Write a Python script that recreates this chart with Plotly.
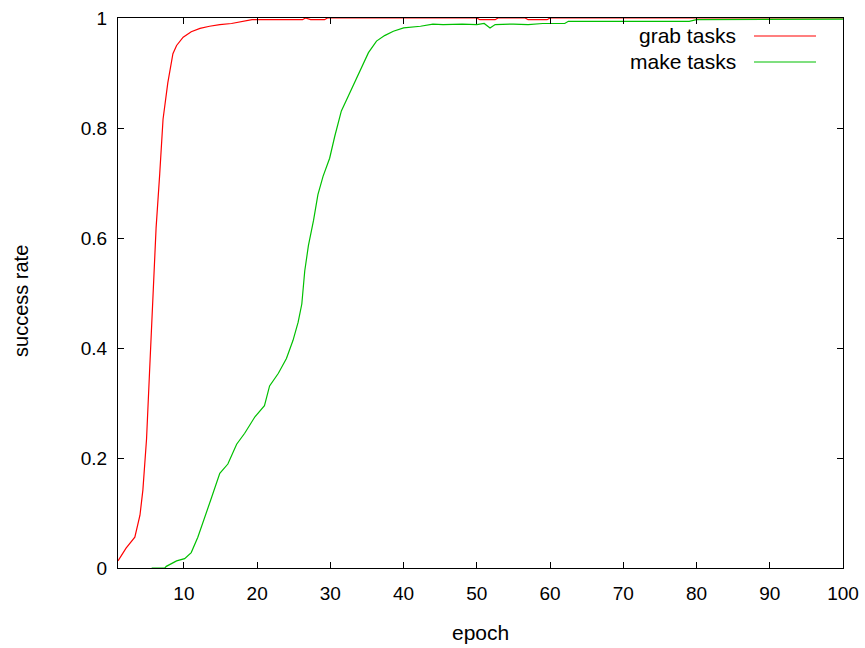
import plotly.graph_objects as go

# success rate per epoch for the two task families
grab_epoch = [1.0, 2.1, 3.3, 4.0, 4.4, 4.9, 5.3, 5.8, 6.2, 6.7, 7.15, 7.8, 8.5, 9.0,
              9.9, 11.0, 12.2, 13.5, 14.9, 16.5, 18.5, 19.3, 26.2, 26.6, 27.3, 29.2,
              29.6, 50.0, 50.4, 52.5, 52.9, 56.6, 57.0, 59.6, 60.0, 100.0]
grab_rate = [0.013, 0.036, 0.056, 0.096, 0.142, 0.235, 0.354, 0.486, 0.618, 0.717,
             0.816, 0.882, 0.935, 0.950, 0.965, 0.975, 0.981, 0.985, 0.988, 0.990,
             0.995, 0.997, 0.997, 1.0, 0.997, 0.997, 1.0, 1.0, 0.997, 0.997, 1.0,
             1.0, 0.997, 0.997, 1.0, 1.0]

make_epoch = [5.6, 7.4, 7.6, 9.0, 10.1, 11.0, 11.9, 12.8, 13.8, 14.9, 16.0, 17.2,
              18.3, 19.7, 21.0, 21.7, 22.9, 24.0, 24.9, 25.6, 26.1, 26.5, 27.0, 27.7,
              28.3, 29.0, 29.9, 30.6, 31.5, 32.2, 33.6, 35.2, 36.3, 37.4, 38.6, 40.0,
              42.3, 44.0, 45.4, 48.0, 50.0, 51.0, 51.8, 52.5, 55.0, 57.0, 59.0, 62.0,
              62.5, 70.0, 79.0, 80.0, 85.0, 88.0, 90.0, 93.0, 95.0, 97.0, 100.0]
make_rate = [0.0, 0.0, 0.003, 0.013, 0.017, 0.028, 0.056, 0.089, 0.129, 0.172, 0.189,
             0.225, 0.245, 0.275, 0.295, 0.331, 0.354, 0.381, 0.414, 0.447, 0.480,
             0.540, 0.586, 0.632, 0.679, 0.712, 0.745, 0.785, 0.831, 0.851, 0.891,
             0.937, 0.958, 0.968, 0.976, 0.982, 0.985, 0.989, 0.988, 0.989, 0.988,
             0.990, 0.982, 0.988, 0.989, 0.988, 0.990, 0.990, 0.994, 0.994, 0.994,
             0.997, 0.997, 0.998, 0.997, 0.998, 0.997, 0.998, 0.998]

x_ticks = [10, 20, 30, 40, 50, 60, 70, 80, 90, 100]
y_ticks = [0, 0.2, 0.4, 0.6, 0.8, 1]
y_tick_text = ["0", "0.2", "0.4", "0.6", "0.8", "1"]

RED = "#ff0000"
GREEN = "#00c000"
FONT = "Liberation Sans"
FS = 19
FS_LABEL = 21

fig = go.Figure()
fig.add_trace(go.Scatter(x=grab_epoch, y=grab_rate, mode="lines",
                         line=dict(color=RED, width=1.2), name="grab tasks",
                         showlegend=False))
fig.add_trace(go.Scatter(x=make_epoch, y=make_rate, mode="lines",
                         line=dict(color=GREEN, width=1.2), name="make tasks",
                         showlegend=False))

axis_common = dict(showline=True, linecolor="black", linewidth=1, mirror="allticks",
                   ticks="inside", ticklen=6, tickcolor="black", tickwidth=1,
                   showgrid=False, zeroline=False, automargin=False,
                   tickfont=dict(family=FONT, size=FS, color="black"))

fig.update_xaxes(range=[1, 100], tickvals=x_ticks, ticklabelstandoff=8, **axis_common)
fig.update_yaxes(range=[0, 1], tickvals=y_ticks, ticktext=y_tick_text,
                 ticklabelstandoff=6, **axis_common)

# gnuplot-style key: right-aligned labels with line samples on the right
key_rows = [("grab tasks", RED, 0.9673), ("make tasks", GREEN, 0.9200)]
annotations = []
shapes = []
for label, color, ky in key_rows:
    annotations.append(dict(text=label, xref="paper", yref="paper", x=0.8552, y=ky,
                            xanchor="right", yanchor="middle", showarrow=False,
                            font=dict(family=FONT, size=FS_LABEL, color="black")))
    shapes.append(dict(type="line", xref="paper", yref="paper", x0=0.8772, x1=0.9628,
                       y0=ky, y1=ky, line=dict(color=color, width=1.2)))

annotations.append(dict(text="epoch", xref="paper", yref="paper", x=0.5, y=-0.1164,
                        xanchor="center", yanchor="middle", showarrow=False,
                        font=dict(family=FONT, size=FS_LABEL, color="black")))
annotations.append(dict(text="success rate", xref="paper", yref="paper", x=-0.1338,
                        y=0.4855, xanchor="center", yanchor="middle", textangle=-90,
                        showarrow=False, font=dict(family=FONT, size=20, color="black")))

fig.update_layout(width=865, height=648, margin=dict(l=118, r=22, t=18, b=80),
                  plot_bgcolor="white", paper_bgcolor="white",
                  annotations=annotations, shapes=shapes, showlegend=False)

fig.write_html("out.html")
